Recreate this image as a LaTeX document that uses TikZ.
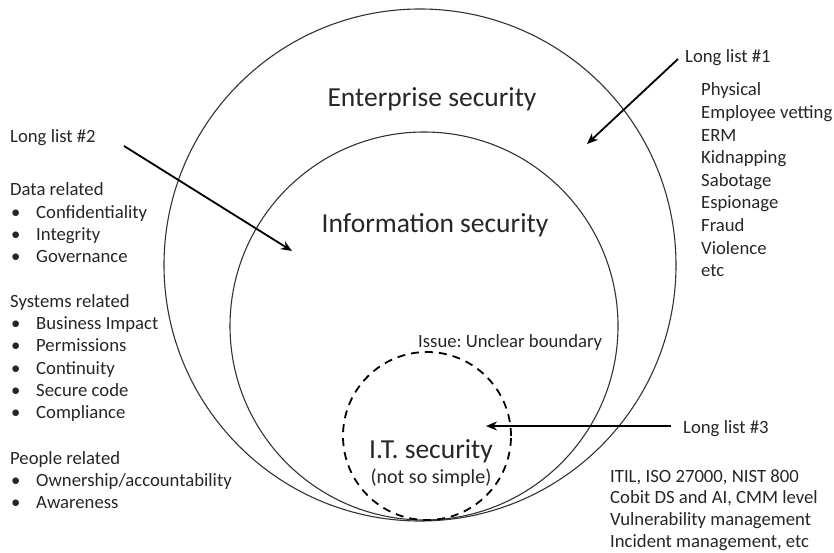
\documentclass[tikz,border=0pt]{standalone}
\usepackage{fontspec}
\setmainfont{Carlito}
\usetikzlibrary{arrows.meta}
\frenchspacing

\tikzset{
  ring/.style={draw=black!80, line width=1.1pt},
  itring/.style={draw=black, line width=1.8pt, dash pattern=on 8pt off 6pt},
  pointer/.style={draw=black, line width=1.8pt, -{Stealth[length=11pt,width=9pt]}},
  listtext/.style={anchor=base west, inner sep=0pt, font=\fontsize{18.7}{22}\selectfont, text=black!85},
  bigtext/.style={anchor=base, inner sep=0pt, font=\fontsize{27.5}{32}\selectfont, text=black!85},
  bul/.style={anchor=base west, inner sep=0pt, font=\fontsize{18.7}{22}\selectfont, text=black!85},
}

\begin{document}
\begin{tikzpicture}[x=1pt,y=-1pt]
\useasboundingbox (0,0) rectangle (834,553);

% the three nested security domains
\draw[ring] (420,265) circle[radius=256pt];
\draw[ring] (424,326) circle[radius=194pt];
\draw[itring] (427,436) circle[radius=84pt];

% domain titles
\node[bigtext] (ent) at (432,107) {Enterprise security};
\node[bigtext] (info) at (435,233) {Information security};
\node[bigtext] (it) at (431,458) {I.T. security};
\node[anchor=base, inner sep=0pt, font=\fontsize{20}{24}\selectfont, text=black!85] (itsub) at (431,483) {(not so simple)};
\node[listtext] (issue) at (418,347) {Issue: Unclear boundary};

% long list 1
\node[listtext] (ll1) at (685,63) {Long list \#1};
\foreach \t [count=\i from 0] in {Physical,Employee vetting,ERM,Kidnapping,Sabotage,Espionage,Fraud,Violence,etc}
  \node[listtext] (l1-\i) at (701,96+22.6*\i) {\t};

% long list 2
\node[listtext] (ll2) at (10,143) {Long list \#2};
\node[listtext] (dat) at (10,196) {Data related};
\foreach \t [count=\i from 0] in {Confidentiality,Integrity,Governance}{
  \node[bul] (db-\i) at (11,218.3+22.3*\i) {•};
  \node[listtext] (d-\i) at (36,218.3+22.3*\i) {\t};
}
\node[listtext] (sys) at (10,307) {Systems related};
\foreach \t [count=\i from 0] in {Business Impact,Permissions,Continuity,Secure code,Compliance}{
  \node[bul] (sb-\i) at (11,329.5+22.3*\i) {•};
  \node[listtext] (s-\i) at (36,329.5+22.3*\i) {\t};
}
\node[listtext] (ppl) at (10,464) {People related};
\foreach \t [count=\i from 0] in {Ownership/accountability,Awareness}{
  \node[bul] (pb-\i) at (11,486.5+22.3*\i) {•};
  \node[listtext] (p-\i) at (36,486.5+22.3*\i) {\t};
}

% long list 3
\node[listtext] (ll3) at (683,433) {Long list \#3};
\foreach \t [count=\i from 0] in {{ITIL, ISO 27000, NIST 800},{Cobit DS and AI, CMM level},{Vulnerability management},{Incident management, etc}}
  \node[listtext] (l3-\i) at (610,482+21.8*\i) {\t};

% pointer arrows
\coordinate (a1s) at (678,59);
\coordinate (a1e) at (587,144);
\coordinate (a2s) at (124,146);
\coordinate (a2e) at (292,251);
\coordinate (a3s) at (671,426);
\coordinate (a3e) at (486,426);
\draw[pointer] (a1s) -- (a1e);
\draw[pointer] (a2s) -- (a2e);
\draw[pointer] (a3s) -- (a3e);
\end{tikzpicture}
\end{document}
